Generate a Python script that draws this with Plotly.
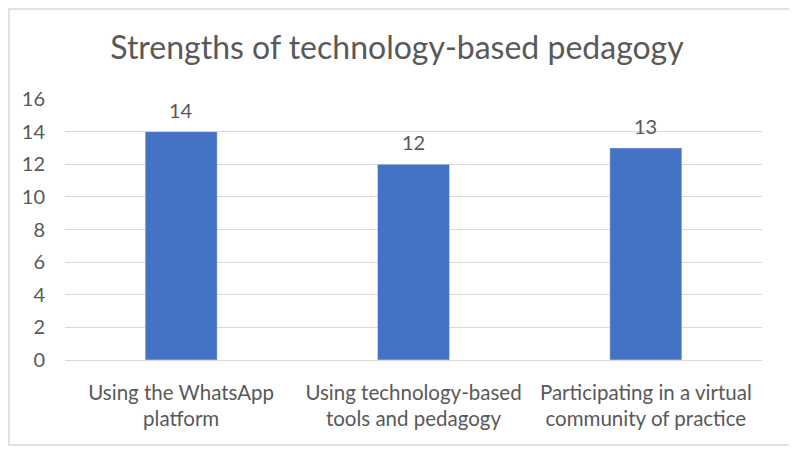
import plotly.graph_objects as go

categories = ["Using the WhatsApp<br>platform", "Using technology-based<br>tools and pedagogy", "Participating in a virtual<br>community of practice"]
values = [14, 12, 13]
y_ticks = [0, 2, 4, 6, 8, 10, 12, 14, 16]
title_text = "Strengths of technology-based pedagogy"

FONT = "Lato"
TXT = "#595959"
GRID = "#D9D9D9"

# page body has an 8px default margin; compensate
OFF = 8
W, H = 797 - OFF, 453 - OFF
L, R, T, B = 65 - OFF, 797 - 762, 99 - OFF, 453 - 360
pw, ph = W - L - R, H - T - B
def px_x(p):
    return (p - OFF - L) / pw
def px_y(p):
    return (H - B - (p - OFF)) / ph

fig = go.Figure(go.Bar(x=categories, y=values, marker_color="#4472C4", width=0.31))

for c, v in zip(categories, values):
    fig.add_annotation(x=c, y=v, text=str(v), showarrow=False, yanchor="middle",
                       yshift=22, font=dict(family=FONT, size=20, color=TXT))

fig.add_shape(type="rect", xref="paper", yref="paper",
              x0=px_x(OFF + 1), x1=px_x(790), y0=px_y(445), y1=px_y(OFF + 1),
              line=dict(color=GRID, width=1.5), fillcolor="rgba(0,0,0,0)", layer="below")

fig.update_layout(
    width=W, height=H,
    margin=dict(l=L, r=R, t=T, b=B),
    paper_bgcolor="white", plot_bgcolor="white",
    showlegend=False,
    title=dict(text=title_text, x=(397 - OFF) / W, xanchor="center", y=1 - (48 - OFF) / H, yanchor="middle",
               xref="container", yref="container",
               font=dict(family=FONT, size=32, color=TXT)),
    xaxis=dict(showgrid=False, showline=False, tickfont=dict(family=FONT, size=20.5, color=TXT),
               ticks="", ticklabelstandoff=18, automargin=False),
    yaxis=dict(range=[0, 16], tickvals=y_ticks, showgrid=True, gridcolor=GRID, gridwidth=1,
               zeroline=True, zerolinecolor=GRID, zerolinewidth=1, showline=False,
               tickfont=dict(family=FONT, size=20, color=TXT), ticks="", ticklabelstandoff=19,
               automargin=False),
    bargap=0.69,
)

fig.write_html("out.html")
